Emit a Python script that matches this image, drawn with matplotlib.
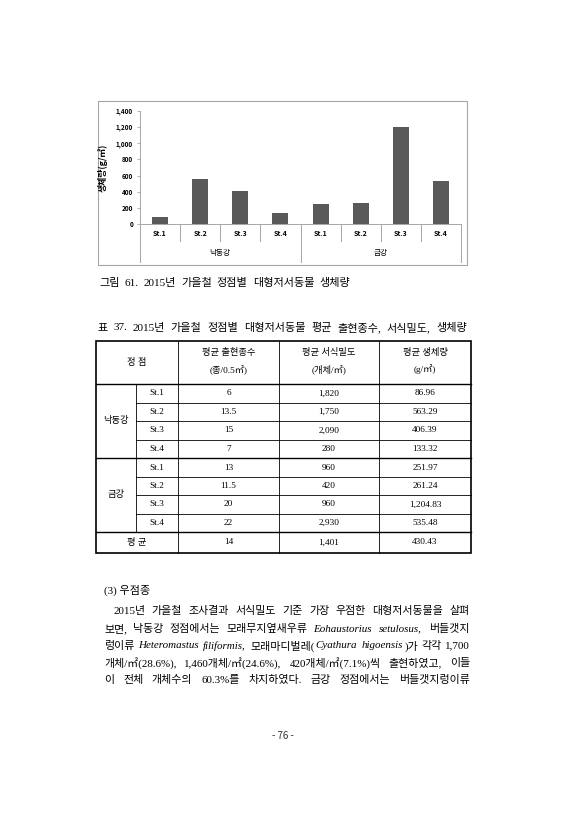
import numpy as np
import matplotlib.pyplot as plt

KR = ['Noto Sans CJK KR', 'DejaVu Sans']
SERIF = ['Liberation Serif', 'Noto Sans CJK KR']

# chart data
stations = ['St.1', 'St.2', 'St.3', 'St.4', 'St.1', 'St.2', 'St.3', 'St.4']
rivers = ['낙동강', '금강']
biomass = [86.96, 563.29, 406.39, 133.32, 251.97, 261.24, 1204.83, 535.48]
yticks = [0, 200, 400, 600, 800, 1000, 1200, 1400]

# table data
header = ['평균 출현종수\n(종/0.5㎡)', '평균 서식밀도\n(개체/㎡)', '평균 생체량\n(g/㎡)']
species = ['6', '13.5', '15', '7', '13', '11.5', '20', '22']
density = ['1,820', '1,750', '2,090', '280', '960', '420', '960', '2,930']
biomass_txt = ['86.96', '563.29', '406.39', '133.32', '251.97', '261.24', '1,204.83', '535.48']
mean_row = ['14', '1,401', '430.43']

caption_fig = '그림 61. 2015년 가을철 정점별 대형저서동물 생체량'
caption_tab = '표 37. 2015년 가을철 정점별 대형저서동물 평균 출현종수, 서식밀도, 생체량'
paragraph = [
    '2015년 가을철 조사결과 서식밀도 기준 가장 우점한 대형저서동물을 살펴',
    '보면, 낙동강 정점에서는 모래무지옆새우류 *Eohaustorius setulosus,* 버들갯지',
    '렁이류 *Heteromastus filiformis,* 모래마디벌레(*Cyathura higoensis*)가 각각 1,700',
    '개체/㎡(28.6%), 1,460개체/㎡(24.6%), 420개체/㎡(7.1%)씩 출현하였고, 이들',
    '이 전체 개체수의 60.3%를 차지하였다. 금강 정점에서는 버들갯지렁이류',
]

W, H = 566, 840
fig = plt.figure(figsize=(W / 100, H / 100), dpi=100)
page = fig.add_axes([0, 0, 1, 1])
page.set_xlim(0, W)
page.set_ylim(H, 0)
page.axis('off')
renderer = fig.canvas.get_renderer()


def justify(y, x0, x1, line, size, family=SERIF):
    # split into words, each word into (text, italic) parts; '*' toggles italic
    italic = False
    words = []
    for w in line.split(' '):
        parts = []
        for i, seg in enumerate(w.split('*')):
            if i > 0:
                italic = not italic
            if seg:
                parts.append((seg, italic))
        words.append(parts)
    texts = []
    total = 0
    for parts in words:
        wt = []
        for k, (seg, it) in enumerate(parts):
            t = page.text(0, y, seg, fontsize=size, family=family,
                          style='italic' if it else 'normal', va='center', ha='left')
            w = t.get_window_extent(renderer).width
            if it:
                w += 1.5  # italic overhang
            elif k > 0 and parts[k - 1][1]:
                w += 0.5
            wt.append((t, w))
            total += w
        texts.append(wt)
    gap = (x1 - x0 - total) / max(len(words) - 1, 1)
    x = x0
    for wt in texts:
        for t, w in wt:
            t.set_x(x)
            x += w
        x += gap


# ---- chart ----
page.add_patch(plt.Rectangle((98, 101), 369, 164, fill=False, ec='#a6a6a6', lw=0.8))

ax = fig.add_axes([140 / W, (H - 224) / H, 321 / W, 113 / H])
x = np.arange(len(biomass))
ax.bar(x, biomass, width=0.4, color='#595959')
ax.set_xlim(-0.5, len(biomass) - 0.5)
ax.set_ylim(0, 1400)
ax.set_yticks(yticks)
ax.set_yticklabels([f'{v:,}' for v in yticks], fontsize=4.6, fontweight='bold', family=KR)
ax.tick_params(axis='y', length=2, width=0.6, color='#a6a6a6', pad=3)
ax.set_xticks([])
for s in ['top', 'right']:
    ax.spines[s].set_visible(False)
for s in ['left', 'bottom']:
    ax.spines[s].set_color('#a6a6a6')
    ax.spines[s].set_linewidth(0.7)
ax.set_ylabel('생체량(g/㎡)', fontsize=6.4, fontweight='bold', family=KR)
ax.yaxis.set_label_coords(-0.1, 0.5)

tr = ax.get_xaxis_transform()
for i in range(len(stations) + 1):
    edge = i - 0.5
    low = -0.336 if i % 4 == 0 else -0.15
    ax.plot([edge, edge], [0, low], transform=tr, color='#a6a6a6', lw=0.7, clip_on=False)
for i, st in enumerate(stations):
    ax.text(i, -0.088, st, transform=tr, ha='center', va='center', fontsize=5,
            fontweight='bold', family=KR)
for g, name in enumerate(rivers):
    ax.text(g * 4 + 1.5, -0.257, name, transform=tr, ha='center', va='center',
            fontsize=5.5, family=KR)

# ---- captions ----
justify(283, 99, 350, caption_fig, 8.0)
justify(328, 97, 467, caption_tab, 8.0)

# ---- table ----
cols = [96, 136, 178, 279, 379, 471]
rows = [341, 384, 402.7, 421, 440, 458, 477, 495, 514, 532, 553]
lw_thin, lw_thick = 0.6, 1.2
page.add_patch(plt.Rectangle((cols[0], rows[0]), cols[-1] - cols[0], rows[-1] - rows[0],
                             fill=False, ec='black', lw=lw_thick))
for yy in rows[1:-1]:
    thick = yy in (rows[1], rows[5], rows[9])
    xs = cols[0] if thick else cols[1]
    page.plot([xs, cols[-1]], [yy, yy], color='black', lw=1.0 if thick else lw_thin)
page.plot([cols[1], cols[1]], [rows[1], rows[9]], color='black', lw=lw_thin)
for xx in cols[2:-1]:
    page.plot([xx, xx], [rows[0], rows[-1]], color='black', lw=lw_thin)

ts = 6.7
page.text((cols[0] + cols[2]) / 2, (rows[0] + rows[1]) / 2, '정 점', ha='center', va='center',
          fontsize=ts, family=SERIF)
for j, h in enumerate(header):
    cx = (cols[j + 2] + cols[j + 3]) / 2
    top, bot = h.split('\n')
    page.text(cx, 353, top, ha='center', va='center', fontsize=ts, family=SERIF)
    page.text(cx, 369, bot, ha='center', va='center', fontsize=ts, family=SERIF)
for g, name in enumerate(rivers):
    page.text((cols[0] + cols[1]) / 2, (rows[1 + g * 4] + rows[5 + g * 4]) / 2, name,
              ha='center', va='center', fontsize=ts, family=SERIF)
for i in range(len(stations)):
    cy = (rows[i + 1] + rows[i + 2]) / 2
    vals = [stations[i], species[i], density[i], biomass_txt[i]]
    for j, v in enumerate(vals):
        page.text((cols[j + 1] + cols[j + 2]) / 2, cy, v, ha='center', va='center',
                  fontsize=ts, family=SERIF)
cy = (rows[9] + rows[10]) / 2
page.text((cols[0] + cols[2]) / 2, cy, '평 균', ha='center', va='center', fontsize=ts, family=SERIF)
for j, v in enumerate(mean_row):
    page.text((cols[j + 2] + cols[j + 3]) / 2, cy, v, ha='center', va='center',
              fontsize=ts, family=SERIF)

# ---- body text ----
page.text(104, 590, '(3) 우점종', ha='left', va='center', fontsize=8.0, family=SERIF)
line_y = [611, 629, 646, 663, 680]
for k, (yy, line) in enumerate(zip(line_y, paragraph)):
    justify(yy, 113 if k == 0 else 104, 470, line, 7.9)

page.text(283, 736, '- 76 -', ha='center', va='center', fontsize=7, family=KR, color='#333333')

fig.savefig('out.png', dpi=100)
